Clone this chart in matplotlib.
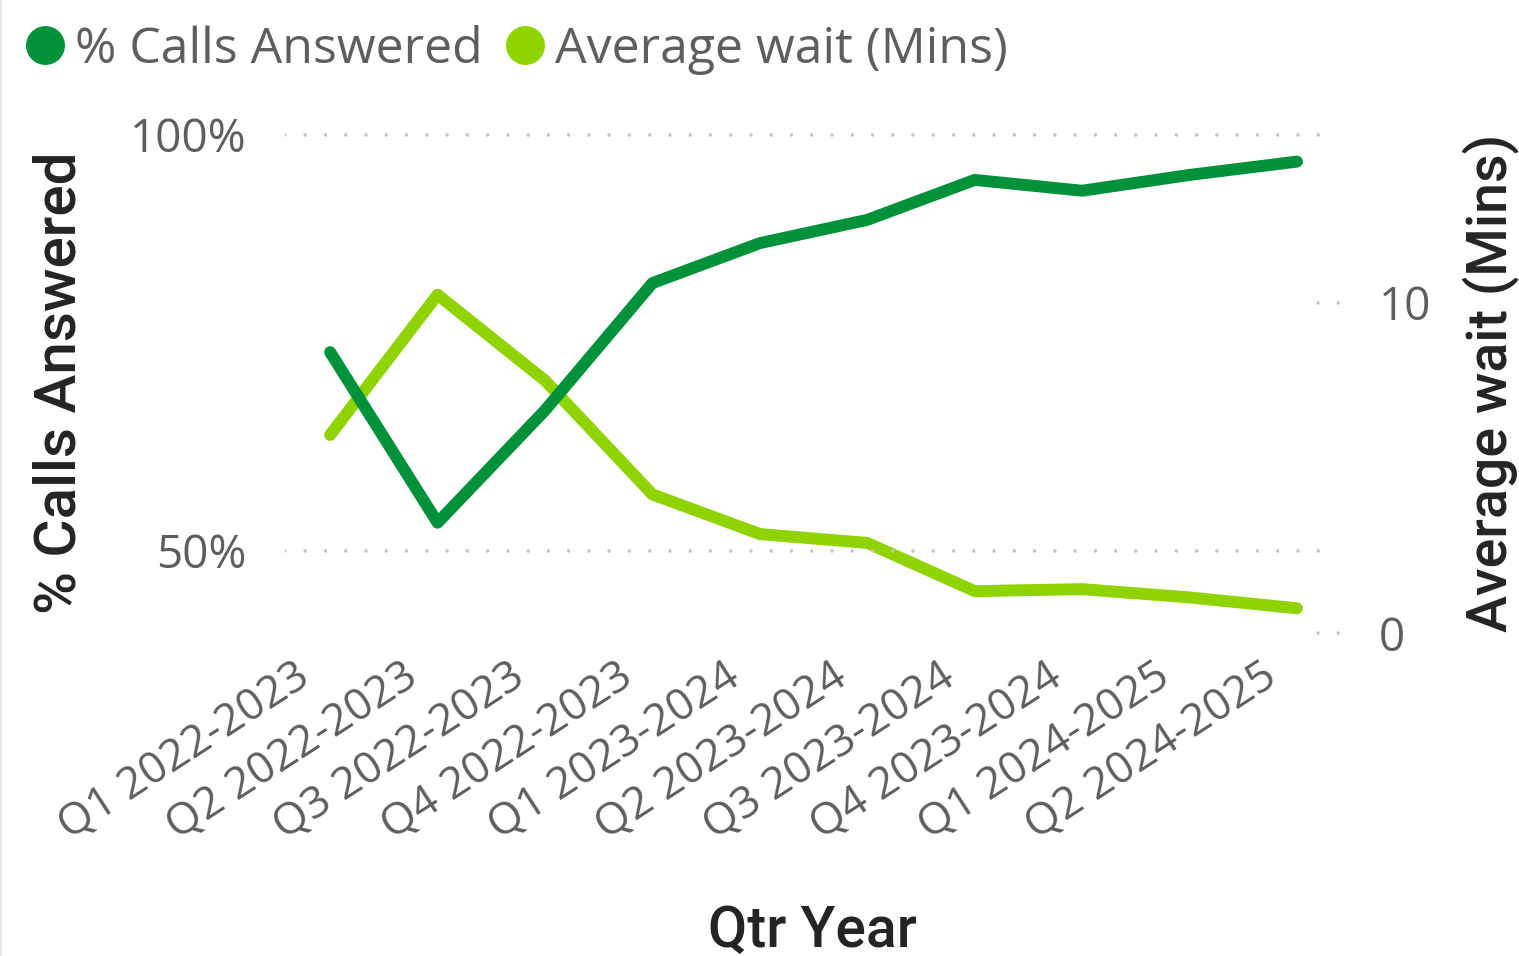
import matplotlib.pyplot as plt
import matplotlib.transforms as mtransforms
from matplotlib.lines import Line2D

# quarterly call-centre figures
quarters = ["Q1 2022-2023", "Q2 2022-2023", "Q3 2022-2023", "Q4 2022-2023",
            "Q1 2023-2024", "Q2 2023-2024", "Q3 2023-2024", "Q4 2023-2024",
            "Q1 2024-2025", "Q2 2024-2025"]
pct_answered = [73.9, 53.4, 66.9, 82.2, 87.0, 89.8, 94.6, 93.3, 95.2, 96.8]
avg_wait = [6.0, 10.25, 7.65, 4.2, 3.0, 2.73, 1.27, 1.33, 1.08, 0.75]

DARK = "#00923A"
LIGHT = "#8FD400"
TICK_GREY = "#605E5C"
TITLE_COL = "#252423"
GRID_COL = "#C8C6C4"

plt.rcParams['font.family'] = ['Open Sans', 'DejaVu Sans']
TITLE_FONT = ['Roboto', 'DejaVu Sans']

W, H = 1519, 956
fig = plt.figure(figsize=(W / 100, H / 100), dpi=100)

# axes box in pixel coordinates
left, right, top, bottom = 285, 1340, 125, 640
ax = fig.add_axes([left / W, 1 - bottom / H, (right - left) / W, (bottom - top) / H])
ax2 = ax.twinx()

x = list(range(len(quarters)))
ax.plot(x, pct_answered, color=DARK, lw=8.6, solid_capstyle='round',
        solid_joinstyle='round', zorder=3)
ax2.plot(x, avg_wait, color=LIGHT, lw=8.6, solid_capstyle='round',
         solid_joinstyle='round', zorder=3)

ax.set_xlim(-0.42, 9.40)
ax.set_ylim(39.3, 101.2)
ax2.set_ylim(-0.21, 15.39)

ax.set_yticks([50, 100])
ax.set_yticklabels(["50%", "100%"])
ax2.set_yticks([0, 10])
ax2.set_yticklabels(["0", "10"])

# dotted gridlines
for v in [50, 100]:
    ax.axhline(v, xmax=0.9905, color=GRID_COL, lw=2.6, ls=(0, (0.01, 5.6)),
               dash_capstyle='round', zorder=1)
for v in [0, 10]:
    ax2.axhline(v, xmin=0.979, color=GRID_COL, lw=2.6, ls=(0, (0.01, 5.6)),
                dash_capstyle='round', zorder=1)

for a in (ax, ax2):
    for s in a.spines.values():
        s.set_visible(False)
    a.tick_params(length=0, labelsize=33, labelcolor=TICK_GREY)
ax.tick_params(axis='y', pad=28)
ax2.tick_params(axis='y', pad=28)

ax.set_xticks(x)
ax.set_xticklabels(quarters, rotation=33, ha='right', va='center',
                   rotation_mode='anchor', fontsize=32, color=TICK_GREY)
ax.tick_params(axis='x', pad=24)
shift = mtransforms.ScaledTranslation(-24 / 100, 0, fig.dpi_scale_trans)
for lab in ax.get_xticklabels():
    lab.set_transform(lab.get_transform() + shift)

ax.set_ylabel("% Calls Answered", fontsize=42, color=TITLE_COL,
              family=TITLE_FONT, fontweight='medium', labelpad=30)
ax2.set_ylabel("Average wait (Mins)", fontsize=40, color=TITLE_COL,
               family=TITLE_FONT, fontweight='medium', labelpad=22)
ax.set_xlabel("Qtr Year", fontsize=41, color=TITLE_COL,
              family=TITLE_FONT, fontweight='medium', labelpad=39)

ax.set_zorder(ax2.get_zorder() + 1)
ax.patch.set_visible(False)

handles = [Line2D([], [], ls='none', marker='o', ms=27, color=DARK),
           Line2D([], [], ls='none', marker='o', ms=27, color=LIGHT)]
fig.legend(handles, ["% Calls Answered", "Average wait (Mins)"],
           loc='upper left', bbox_to_anchor=(-0.01, 1.01), ncol=2, frameon=False,
           fontsize=36, labelcolor=TICK_GREY, handletextpad=0.1,
           columnspacing=0.35, handlelength=1.0, borderaxespad=0.3)

fig.add_artist(Line2D([0.0008, 0.0008], [0, 1], color="#E6E6E6", lw=1.5,
                      transform=fig.transFigure))

fig.savefig("out.png", dpi=100, facecolor='white')
